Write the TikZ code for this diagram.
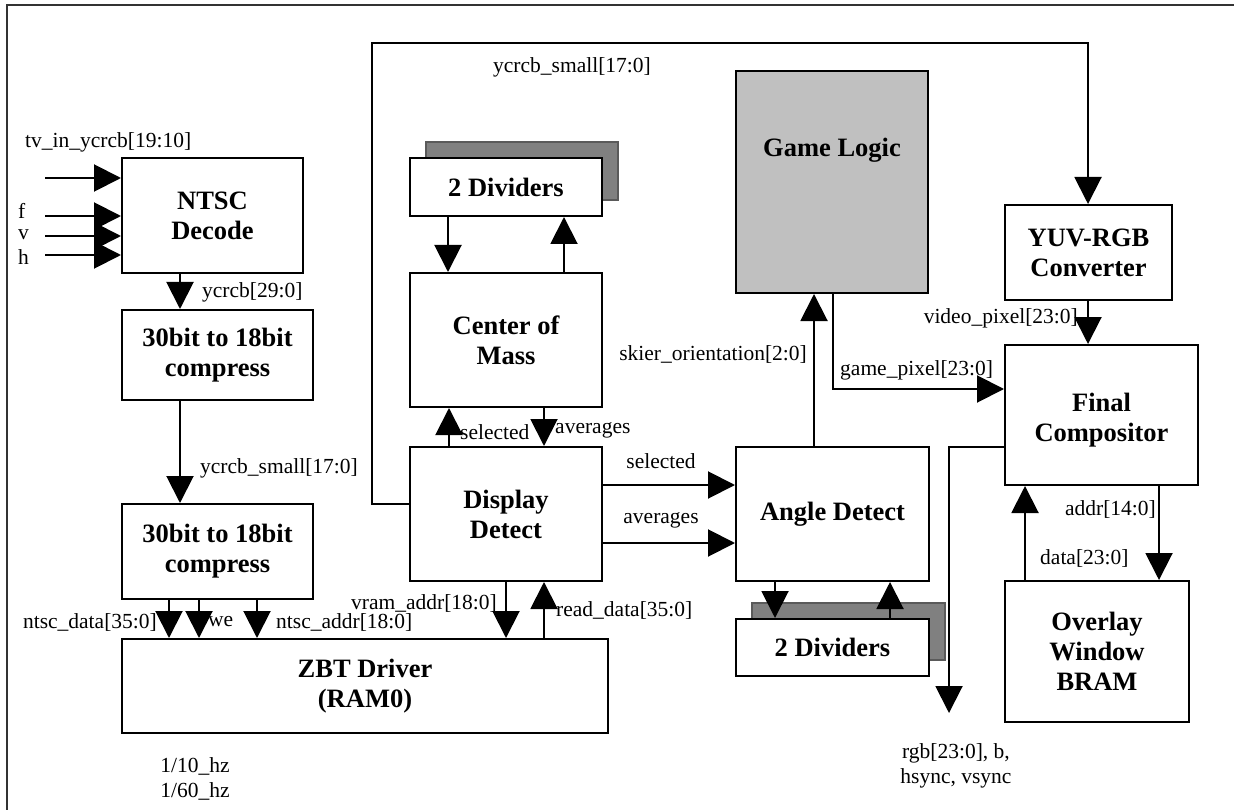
\documentclass[tikz,border=0pt]{standalone}
\usepackage{fontspec}
\setmainfont{Liberation Serif}
\usetikzlibrary{arrows.meta}
\definecolor{gamegray}{HTML}{C0C0C0}
\definecolor{shadowgray}{HTML}{808080}
\definecolor{framegray}{HTML}{333333}
\tikzset{
  blk/.style={draw, line width=2pt, fill=white, inner sep=0pt, align=center,
    font=\fontsize{26.5}{30}\selectfont\bfseries},
  shadowblk/.style={draw=shadowgray!70!black, line width=1.2pt, fill=shadowgray, inner sep=0pt},
  ttl/.style={inner sep=0pt, align=center, font=\fontsize{26.5}{30}\selectfont\bfseries},
  lbl/.style={inner sep=0pt, align=center, font=\fontsize{21.5}{25}\selectfont},
  sig/.style={line width=2pt, -{Triangle[length=27pt,width=27pt]}},
  wire/.style={line width=2pt},
}
\begin{document}
\begin{tikzpicture}[x=1pt,y=-1pt]
\useasboundingbox (0,0) rectangle (1234,810);
% outer frame (right and bottom edges lie outside the picture)
\draw[framegray, line width=2.5pt] (7,810) -- (7,5) -- (1234,5);

% helper coordinates
\foreach \c in {169,180,199,257,372,448,449,506,544,564,775,814,833,890,949,1025,1088,1159}
  {\coordinate (X\c) at (\c,0);}
\foreach \r in {43,178,216,236,255,389,447,485,504,543}
  {\coordinate (Y\r) at (0,\r);}
\coordinate (tvin) at (45,178);
\coordinate (fin) at (45,216);
\coordinate (vin) at (45,236);
\coordinate (hin) at (45,255);
\coordinate (rgbout) at (949,713);

% boxes
\node[blk, minimum width=181pt, minimum height=115pt] (ntsc) at (212.5,215.5) {NTSC\\Decode};
\node[blk, minimum width=191pt, minimum height=90pt] (comp1) at (217.5,355) {30bit to 18bit\\compress};
\node[blk, minimum width=191pt, minimum height=95pt] (comp2) at (217.5,551.5) {30bit to 18bit\\compress};
\node[blk, minimum width=486pt, minimum height=94pt] (zbt) at (365,686) {ZBT Driver\\(RAM0)};
\node[shadowblk, minimum width=192pt, minimum height=58pt] (div1s) at (522,171) {};
\node[blk, minimum width=192pt, minimum height=58pt] (div1) at (506,187) {2 Dividers};
\node[blk, minimum width=192pt, minimum height=134pt] (com) at (506,340) {Center of\\Mass};
\node[blk, minimum width=192pt, minimum height=134pt] (disp) at (506,514) {Display\\Detect};
\node[blk, fill=gamegray, minimum width=192pt, minimum height=222pt] (game) at (832,182) {};
\node[ttl] (gamettl) at (832,150) {Game Logic};
\node[blk, minimum width=193pt, minimum height=134pt] (angle) at (832.5,514) {Angle Detect};
\node[shadowblk, minimum width=193pt, minimum height=57pt] (div2s) at (848.5,631.5) {};
\node[blk, minimum width=193pt, minimum height=57pt] (div2) at (832.5,647.5) {2 Dividers};
\node[blk, minimum width=167pt, minimum height=95pt] (yuv) at (1088.5,252.5) {YUV-RGB\\Converter};
\node[blk, minimum width=193pt, minimum height=140pt] (fc) at (1101.5,415) {};
\node[ttl] (fcttl) at (1101.5,420) {Final\\Compositor};
\node[blk, minimum width=184pt, minimum height=141pt] (overlay) at (1097,651.5) {Overlay\\Window\\BRAM};

% connectors
\draw[sig] (tvin) -- (ntsc.west |- tvin);
\draw[sig] (fin) -- (ntsc.west |- fin);
\draw[sig] (vin) -- (ntsc.west |- vin);
\draw[sig] (hin) -- (ntsc.west |- hin);
\draw[sig] (ntsc.south -| X180) -- (comp1.north -| X180);
\draw[sig] (comp1.south -| X180) -- (comp2.north -| X180);
\draw[sig] (comp2.south -| X169) -- (zbt.north -| X169);
\draw[sig] (comp2.south -| X199) -- (zbt.north -| X199);
\draw[sig] (comp2.south -| X257) -- (zbt.north -| X257);
\draw[sig] (disp.south -| X506) -- (zbt.north -| X506);
\draw[sig] (zbt.north -| X544) -- (disp.south -| X544);
\draw[sig] (div1.south -| X448) -- (com.north -| X448);
\draw[sig] (com.north -| X564) -- (div1.south -| X564);
\draw[sig] (disp.north -| X449) -- (com.south -| X449);
\draw[sig] (com.south -| X544) -- (disp.north -| X544);
\draw[sig] (disp.east |- Y485) -- (angle.west |- Y485);
\draw[sig] (disp.east |- Y543) -- (angle.west |- Y543);
\draw[sig] (angle.south -| X775) -- (div2.north -| X775);
\draw[sig] (div2.north -| X890) -- (angle.south -| X890);
\draw[sig] (angle.north -| X814) -- (game.south -| X814);
\draw[sig] (game.south -| X833) -- (X833 |- Y389) -- (fc.west |- Y389);
\draw[sig] (disp.west |- Y504) -- (X372 |- Y504) -- (X372 |- Y43) -- (X1088 |- Y43) -- (yuv.north -| X1088);
\draw[sig] (yuv.south -| X1088) -- (fc.north -| X1088);
\draw[sig] (fc.south -| X1159) -- (overlay.north -| X1159);
\draw[sig] (overlay.north -| X1025) -- (fc.south -| X1025);
\draw[sig] (fc.west |- Y447) -- (X949 |- Y447) -- (rgbout);

% labels
\node[lbl, anchor=west] (ltv) at (25,142) {tv\_in\_ycrcb[19:10]};
\node[lbl, anchor=west] (lf) at (18,211) {f};
\node[lbl, anchor=west] (lv) at (18,235) {v};
\node[lbl, anchor=west] (lh) at (18,257) {h};
\node[lbl, anchor=west] (ly30) at (202,292) {ycrcb[29:0]};
\node[lbl, anchor=west] (ly18) at (200,468) {ycrcb\_small[17:0]};
\node[lbl, anchor=east] (lnd) at (157,622) {ntsc\_data[35:0]};
\node[lbl, anchor=west] (lwe) at (208,622) {we};
\node[lbl, anchor=west] (lna) at (276,622) {ntsc\_addr[18:0]};
\node[lbl, anchor=east] (lva) at (497,603) {vram\_addr[18:0]};
\node[lbl, anchor=west] (lrd) at (556,610) {read\_data[35:0]};
\node[lbl, anchor=west] (lsel1) at (460,432) {selected};
\node[lbl, anchor=west] (lavg1) at (555,430) {averages};
\node[lbl] (lsel2) at (661,461) {selected};
\node[lbl] (lavg2) at (661,520) {averages};
\node[lbl, anchor=east] (lsk) at (807,354) {skier\_orientation[2:0]};
\node[lbl, anchor=west] (lgp) at (840,370) {game\_pixel[23:0]};
\node[lbl, anchor=east] (lvp) at (1078,318) {video\_pixel[23:0]};
\node[lbl, anchor=east] (lad) at (1156,509) {addr[14:0]};
\node[lbl, anchor=west] (lda) at (1040,558) {data[23:0]};
\node[lbl] (lrgb) at (956,766) {rgb[23:0], b,\\hsync, vsync};
\node[lbl] (lhz) at (195,779) {1/10\_hz\\1/60\_hz};
\node[lbl] (lys) at (572,67) {ycrcb\_small[17:0]};
\end{tikzpicture}
\end{document}
